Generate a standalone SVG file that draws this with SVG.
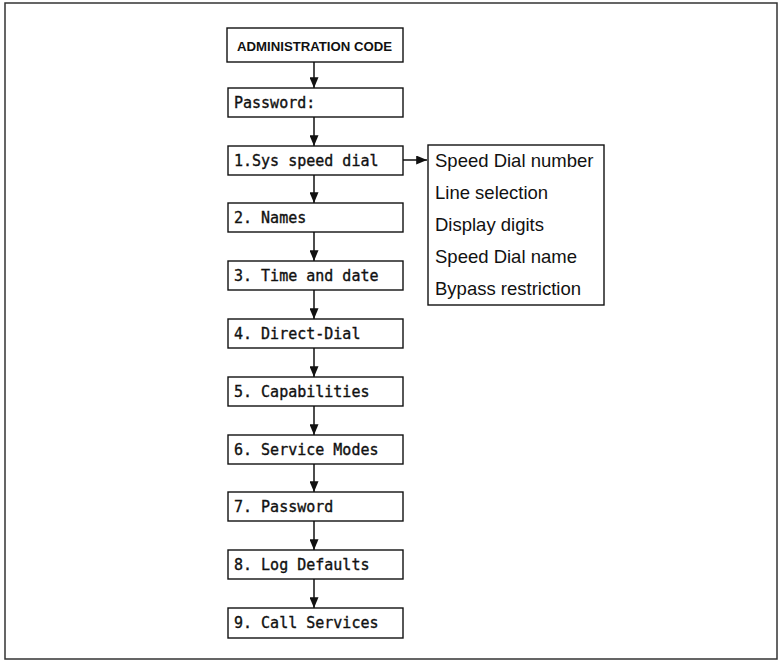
<svg xmlns="http://www.w3.org/2000/svg" width="779" height="661" viewBox="0 0 779 661">
<defs>
<style>
.frame{fill:none;stroke:#333;stroke-width:1.5}
.box{fill:#fff;stroke:#111;stroke-width:1.4}
.lcd{font-family:"DejaVu Sans Mono","Liberation Mono",monospace;font-size:15px;fill:#111;stroke:#111;stroke-width:0.35}
.hd{font-family:"Liberation Sans",Arial,sans-serif;font-size:13.2px;font-weight:bold;fill:#111}
.lst{font-family:"Liberation Sans",Arial,sans-serif;font-size:18.5px;fill:#111}
.con{stroke:#111;stroke-width:1.5;fill:none}
</style>
<marker id="ah" viewBox="0 0 12 10" refX="12" refY="5" markerWidth="12" markerHeight="9" markerUnits="userSpaceOnUse" orient="auto">
<path d="M0,0 L12,5 L0,10 Z" fill="#111"/>
</marker>
</defs>
<rect class="frame" x="5" y="3" width="772" height="656"/>
<g id="connectors">
<line class="con" x1="314" y1="62" x2="314" y2="88" marker-end="url(#ah)"/>
<line class="con" x1="314" y1="117" x2="314" y2="146" marker-end="url(#ah)"/>
<line class="con" x1="314" y1="175" x2="314" y2="203" marker-end="url(#ah)"/>
<line class="con" x1="314" y1="232" x2="314" y2="261" marker-end="url(#ah)"/>
<line class="con" x1="314" y1="290" x2="314" y2="319" marker-end="url(#ah)"/>
<line class="con" x1="314" y1="348" x2="314" y2="377" marker-end="url(#ah)"/>
<line class="con" x1="314" y1="406" x2="314" y2="435" marker-end="url(#ah)"/>
<line class="con" x1="314" y1="464" x2="314" y2="492" marker-end="url(#ah)"/>
<line class="con" x1="314" y1="521" x2="314" y2="550" marker-end="url(#ah)"/>
<line class="con" x1="314" y1="579" x2="314" y2="608" marker-end="url(#ah)"/>
<line class="con" x1="403" y1="160" x2="427" y2="160" marker-end="url(#ah)"/>
</g>
<g id="n0"><rect class="box" x="227" y="28" width="176" height="34"/><text class="hd" x="237" y="51">ADMINISTRATION CODE</text></g>
<g id="n1"><rect class="box" x="228" y="88" width="175" height="29"/><text class="lcd" x="234" y="108">Password:</text></g>
<g id="n2"><rect class="box" x="228" y="146" width="175" height="29"/><text class="lcd" x="234" y="166">1.Sys speed dial</text></g>
<g id="n3"><rect class="box" x="228" y="203" width="175" height="29"/><text class="lcd" x="234" y="223">2. Names</text></g>
<g id="n4"><rect class="box" x="228" y="261" width="175" height="29"/><text class="lcd" x="234" y="281">3. Time and date</text></g>
<g id="n5"><rect class="box" x="228" y="319" width="175" height="29"/><text class="lcd" x="234" y="339">4. Direct-Dial</text></g>
<g id="n6"><rect class="box" x="228" y="377" width="175" height="29"/><text class="lcd" x="234" y="397">5. Capabilities</text></g>
<g id="n7"><rect class="box" x="228" y="435" width="175" height="29"/><text class="lcd" x="234" y="455">6. Service Modes</text></g>
<g id="n8"><rect class="box" x="228" y="492" width="175" height="29"/><text class="lcd" x="234" y="512">7. Password</text></g>
<g id="n9"><rect class="box" x="228" y="550" width="175" height="29"/><text class="lcd" x="234" y="570">8. Log Defaults</text></g>
<g id="n10"><rect class="box" x="228" y="608" width="175" height="30"/><text class="lcd" x="234" y="628">9. Call Services</text></g>
<g id="list"><rect class="box" x="428" y="145" width="176" height="160"/>
<text class="lst" x="435" y="167">Speed Dial number</text>
<text class="lst" x="435" y="199">Line selection</text>
<text class="lst" x="435" y="231">Display digits</text>
<text class="lst" x="435" y="263">Speed Dial name</text>
<text class="lst" x="435" y="295">Bypass restriction</text>
</g>
</svg>
